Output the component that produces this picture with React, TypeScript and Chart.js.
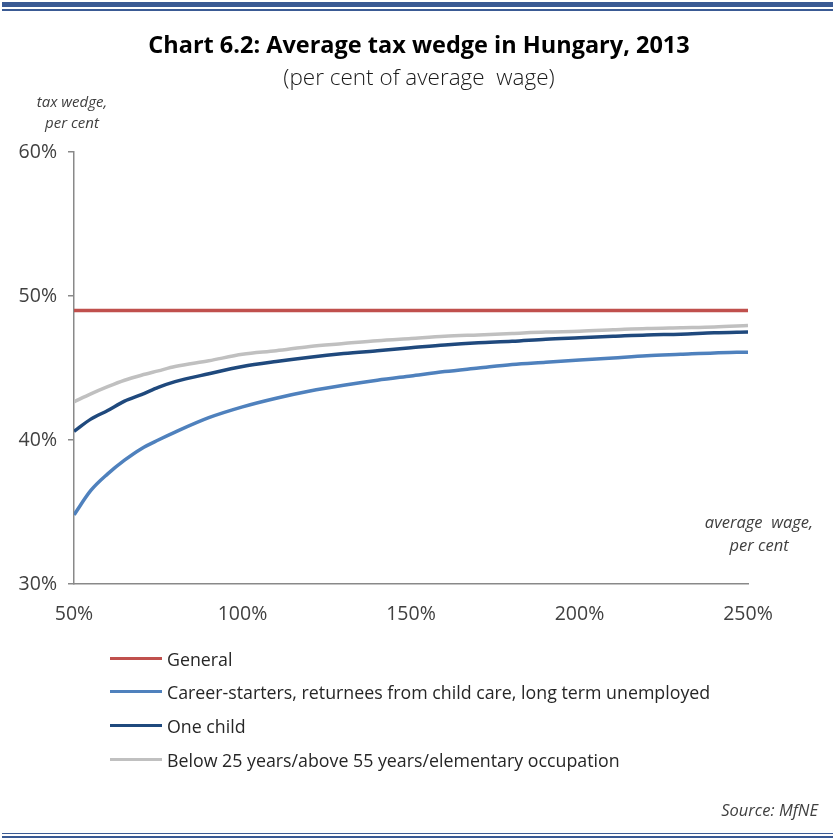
import React, { useEffect, useRef } from "react";
import { Chart, registerables } from "chart.js";

Chart.register(...registerables);

// Gross wage as a percentage of the average wage
const wagePercent = [50, 55, 60, 65, 70, 75, 80, 90, 100, 110, 120, 130, 140, 150, 160, 170, 180, 190, 200, 210, 220, 230, 240, 250];

// Average tax wedge, per cent
const general = [49.0, 49.0, 49.0, 49.0, 49.0, 49.0, 49.0, 49.0, 49.0, 49.0, 49.0, 49.0, 49.0, 49.0, 49.0, 49.0, 49.0, 49.0, 49.0, 49.0, 49.0, 49.0, 49.0, 49.0];
const careerStarters = [34.8, 36.5, 37.65, 38.6, 39.4, 40.0, 40.55, 41.55, 42.3, 42.9, 43.4, 43.8, 44.15, 44.45, 44.75, 45.0, 45.25, 45.4, 45.55, 45.7, 45.85, 45.95, 46.05, 46.1];
const oneChild = [40.6, 41.45, 42.05, 42.7, 43.15, 43.65, 44.05, 44.6, 45.1, 45.45, 45.75, 46.0, 46.2, 46.4, 46.6, 46.75, 46.85, 47.0, 47.1, 47.2, 47.3, 47.35, 47.45, 47.5];
const youngOldElementary = [42.65, 43.2, 43.7, 44.15, 44.5, 44.8, 45.1, 45.5, 45.95, 46.2, 46.5, 46.7, 46.9, 47.05, 47.2, 47.3, 47.4, 47.5, 47.55, 47.65, 47.75, 47.8, 47.85, 47.95];

const seriesNames = [
  "General",
  "Career-starters, returnees from child care, long term unemployed",
  "One child",
  "Below 25 years/above 55 years/elementary occupation",
];
const seriesColors = ["#C0504D", "#4F81BD", "#1F497D", "#C0C0C0"];
const seriesValues = [general, careerStarters, oneChild, youngOldElementary];

const FONT = "'Open Sans', 'Noto Sans', sans-serif";
const AXIS_GREY = "#898989";
const RULE_BLUE = "#3A5A94";

function TaxWedgeChart() {
  const canvasRef = useRef<HTMLCanvasElement | null>(null);

  useEffect(() => {
    const canvas = canvasRef.current;
    if (!canvas) return;
    const chart = new Chart(canvas, {
      type: "line",
      data: {
        datasets: seriesValues.map((vals, i) => ({
          label: seriesNames[i],
          data: vals.map((v, j) => ({ x: wagePercent[j], y: v })),
          borderColor: seriesColors[i],
          backgroundColor: seriesColors[i],
          borderWidth: 3.5,
          pointRadius: 0,
          cubicInterpolationMode: "monotone" as const,
          fill: false,
        })),
      },
      options: {
        animation: false,
        responsive: false,
        devicePixelRatio: 1,
        layout: { padding: { left: 0, top: 152, right: 85, bottom: 194 } },
        plugins: {
          legend: { display: false },
          title: { display: false },
          tooltip: { enabled: false },
        },
        scales: {
          x: {
            type: "linear",
            min: 50,
            max: 250,
            afterFit: (s: any) => {
              s.height = 60;
            },
            ticks: {
              stepSize: 50,
              callback: (v: any) => `${v}%`,
              color: "#404040",
              font: { family: FONT, size: 19.5 },
              padding: 19,
              maxRotation: 0,
            },
            grid: { display: false, drawTicks: false },
            border: { display: true, color: AXIS_GREY, width: 1.5 },
          },
          y: {
            min: 30,
            max: 60,
            afterFit: (s: any) => {
              s.width = 74;
            },
            ticks: {
              stepSize: 10,
              callback: (v: any) => `${v}%`,
              color: "#404040",
              font: { family: FONT, size: 19.5 },
              padding: 11,
            },
            grid: {
              display: true,
              drawOnChartArea: false,
              drawTicks: true,
              tickLength: 6,
              color: AXIS_GREY,
              lineWidth: 1.5,
            },
            border: { display: true, color: AXIS_GREY, width: 1.5 },
          },
        },
      },
    });
    return () => chart.destroy();
  }, []);

  const abs = (extra: React.CSSProperties): React.CSSProperties => ({
    position: "absolute",
    whiteSpace: "nowrap",
    fontFamily: FONT,
    ...extra,
  });

  const legendRows = [659, 692, 726, 760];

  return (
    <div style={{ position: "absolute", left: 0, top: 0, width: 833, height: 838, background: "#fff", overflow: "hidden" }}>
      {/* frame rules */}
      <div style={{ position: "absolute", left: 2, right: 0, top: 2, height: 4.5, background: RULE_BLUE }} />
      <div style={{ position: "absolute", left: 2, right: 0, top: 9, height: 1.5, background: RULE_BLUE }} />
      <div style={{ position: "absolute", left: 2, right: 0, top: 832.5, height: 1.5, background: RULE_BLUE }} />
      <div style={{ position: "absolute", left: 2, right: 0, top: 835.5, height: 2, background: RULE_BLUE }} />

      <canvas ref={canvasRef} width={833} height={838} style={{ position: "absolute", left: 0, top: 0, display: "block" }} />

      <div style={abs({ left: 0, width: 838, top: 29, lineHeight: "30px", textAlign: "center", fontSize: 23.5, fontWeight: 700, color: "#000" })}>
        Chart 6.2: Average tax wedge in Hungary, 2013
      </div>
      <div style={abs({ left: 0, width: 838, top: 62, lineHeight: "30px", textAlign: "center", fontSize: 22.5, fontWeight: 300, color: "#1a1a1a" })}>
        (per cent of average&nbsp; wage)
      </div>

      <div style={abs({ left: 22, width: 100, top: 91, lineHeight: "20px", textAlign: "center", fontSize: 15, fontStyle: "italic", color: "#404040" })}>
        tax wedge,
      </div>
      <div style={abs({ left: 22, width: 100, top: 112, lineHeight: "20px", textAlign: "center", fontSize: 15, fontStyle: "italic", color: "#404040" })}>
        per cent
      </div>

      <div style={abs({ left: 694, width: 130, top: 512, lineHeight: "20px", textAlign: "center", fontSize: 16.5, fontStyle: "italic", color: "#404040" })}>
        average&nbsp; wage,
      </div>
      <div style={abs({ left: 694, width: 130, top: 535, lineHeight: "20px", textAlign: "center", fontSize: 16.5, fontStyle: "italic", color: "#404040" })}>
        per cent
      </div>

      {seriesNames.map((name, i) => (
        <React.Fragment key={name}>
          <div style={{ position: "absolute", left: 110, width: 52, top: legendRows[i] - 2.5, height: 3.5, background: seriesColors[i] }} />
          <div style={abs({ left: 167, top: legendRows[i] - 12.5, lineHeight: "24px", fontSize: 17.8, color: "#262626" })}>{name}</div>
        </React.Fragment>
      ))}

      <div style={abs({ right: 15, top: 800, lineHeight: "20px", fontSize: 16.5, fontStyle: "italic", color: "#404040" })}>
        Source: MfNE
      </div>
    </div>
  );
}

export default function App() {
  return <TaxWedgeChart />;
}
